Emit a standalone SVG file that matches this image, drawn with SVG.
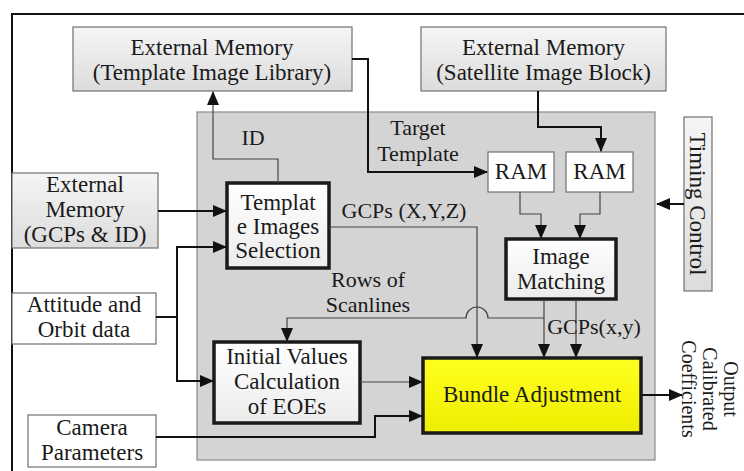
<svg xmlns="http://www.w3.org/2000/svg" width="744" height="471" viewBox="0 0 744 471" font-family="'Liberation Serif', 'Times New Roman', serif">
<style>
text{font-family:"Liberation Serif","Times New Roman",serif;font-size:23px;fill:#1a1a1a;text-anchor:middle}
.lbl{font-size:22px}
.out{font-size:20px}
.gbox{fill:url(#gGray);stroke:#707070;stroke-width:1.2}
.wbox{fill:#ffffff;stroke:#707070;stroke-width:1.2}
.tbox{fill:url(#gWhite);stroke:#1a1a1a;stroke-width:3.5}
.thick{fill:none;stroke:#111;stroke-width:2;marker-end:url(#ah)}
.thin{fill:none;stroke:#444;stroke-width:1.2;marker-end:url(#ah)}
.thickn{fill:none;stroke:#111;stroke-width:2}
</style>
<defs>
<linearGradient id="gGray" x1="0" y1="0" x2="0" y2="1"><stop offset="0" stop-color="#f5f5f5"/><stop offset="1" stop-color="#dcdcdc"/></linearGradient>
<linearGradient id="gWhite" x1="0" y1="0" x2="0" y2="1"><stop offset="0" stop-color="#ffffff"/><stop offset="1" stop-color="#ececec"/></linearGradient>
<linearGradient id="gYel" x1="0" y1="0" x2="0" y2="1"><stop offset="0" stop-color="#ffff20"/><stop offset="1" stop-color="#eeee00"/></linearGradient>
<marker id="ah" markerUnits="userSpaceOnUse" markerWidth="14" markerHeight="12" refX="13" refY="6" orient="auto"><path d="M0,0 L14,6 L0,12 Z" fill="#111"/></marker>
</defs>
<rect width="744" height="471" fill="#fff"/>
<path d="M12,471 V14 H744" fill="none" stroke="#111" stroke-width="2"/>
<g id="panel"><rect x="197" y="112" width="458" height="348" fill="#d4d4d4" stroke="#8a8a8a" stroke-width="1.2"/></g>
<g id="template-library"><rect class="gbox" x="73" y="27" width="279" height="64"/><text x="212" y="55">External Memory</text><text x="212" y="80">(Template Image Library)</text></g>
<g id="satellite-block"><rect class="gbox" x="421" y="27" width="245" height="64"/><text x="543.5" y="55">External Memory</text><text x="543.5" y="80">(Satellite Image Block)</text></g>
<g id="timing-control"><rect class="gbox" x="684" y="117" width="28" height="174"/><text transform="translate(690,204) rotate(90)" x="0" y="0">Timing Control</text></g>
<g id="ext-gcps"><rect class="gbox" x="12" y="173" width="146" height="75"/><text x="85" y="192">External</text><text x="85" y="217">Memory</text><text x="85" y="242">(GCPs &amp; ID)</text></g>
<g id="attitude"><rect class="wbox" x="12" y="293" width="144" height="51"/><text x="84" y="312">Attitude and</text><text x="84" y="337">Orbit data</text></g>
<g id="camera"><rect class="wbox" x="28" y="415" width="128" height="52"/><text x="92" y="435">Camera</text><text x="92" y="460">Parameters</text></g>
<g id="ram1"><rect class="wbox" x="488" y="152" width="66" height="40"/><text x="521" y="179">RAM</text></g>
<g id="ram2"><rect class="wbox" x="566" y="152" width="67" height="40"/><text x="599.5" y="179">RAM</text></g>
<g id="template-selection"><rect class="tbox" x="227" y="183" width="102" height="85"/><text x="278" y="210">Templat</text><text x="278" y="234">e Images</text><text x="278" y="258">Selection</text></g>
<g id="image-matching"><rect class="tbox" x="506" y="239" width="110" height="60"/><text x="561" y="264">Image</text><text x="561" y="289">Matching</text></g>
<g id="initial-values"><rect class="tbox" x="214" y="342" width="146" height="81"/><text x="287" y="364">Initial Values</text><text x="287" y="389">Calculation</text><text x="287" y="414">of EOEs</text></g>
<g id="bundle"><rect x="423" y="358" width="218" height="75" fill="url(#gYel)" stroke="#1a1a1a" stroke-width="3.5"/><text x="532" y="402">Bundle Adjustment</text></g>
<g id="connectors">
<path class="thin" d="M278,183 V159 H213 V92"/>
<path class="thick" d="M352,59 H368 V172 H487"/>
<path class="thick" d="M538,91 V127 H601 V151"/>
<path class="thin" d="M520,192 V214 H541 V238"/>
<path class="thin" d="M600,192 V214 H580 V238"/>
<path class="thick" d="M158,211 H226"/>
<path class="thickn" d="M156,317 H177"/>
<path class="thick" d="M177,317 V247 H226"/>
<path class="thick" d="M177,317 V381 H213"/>
<path class="thick" d="M156,437 H375 V416 H422"/>
<path class="thin" d="M360,382 H422"/>
<path class="thin" d="M329,227 H477 V357"/>
<path class="thin" d="M544,299 V357"/>
<path class="thin" d="M576,299 V357"/>
<path class="thin" d="M544,318 H488 A11,11 0 0 0 466,318 H287 V341"/>
<path class="thick" d="M641,395 H682"/>
<path class="thick" d="M684,204 H657"/>
</g>
<g id="labels">
<text class="lbl" x="253" y="145">ID</text>
<text class="lbl" x="418" y="135">Target</text>
<text class="lbl" x="418" y="161">Template</text>
<text class="lbl" x="404" y="218">GCPs (X,Y,Z)</text>
<text class="lbl" x="368" y="287">Rows of</text>
<text class="lbl" x="368" y="312">Scanlines</text>
<text class="lbl" x="594" y="334">GCPs(x,y)</text>
<text class="out" transform="translate(0,389) rotate(90)"><tspan x="0" y="-724">Output</tspan><tspan x="0" y="-703">Calibrated</tspan><tspan x="0" y="-682">Coefficients</tspan></text>
</g>
</svg>
